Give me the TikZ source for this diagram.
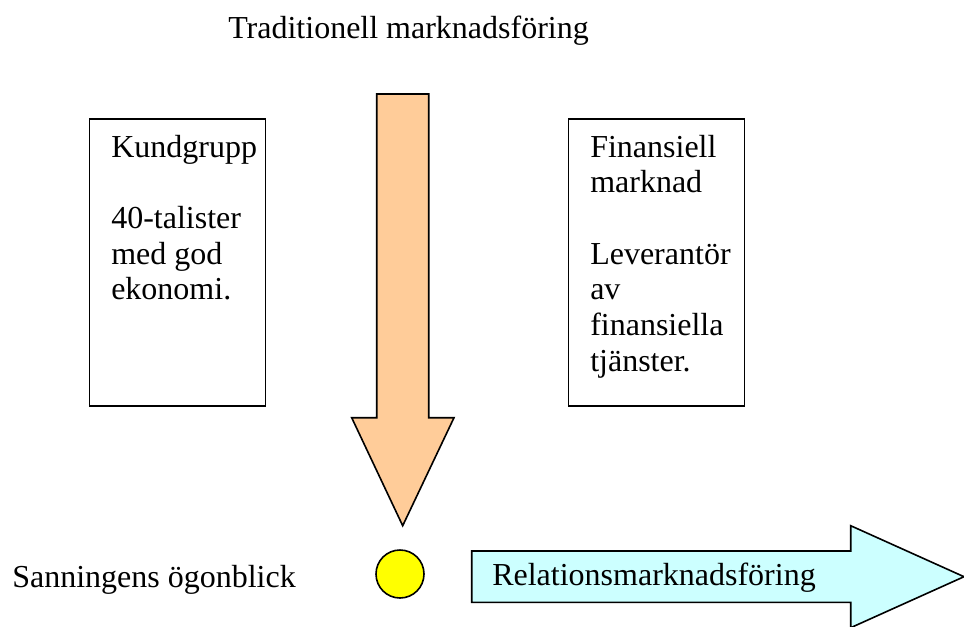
\documentclass[tikz,border=0pt]{standalone}
\usepackage{fontspec}
\setmainfont{Liberation Serif}
\begin{document}
\begin{tikzpicture}[x=0.75pt,y=-0.75pt,
  txt/.style={anchor=base west,inner sep=0pt,font=\fontsize{24}{27}\selectfont},
  outline/.style={draw=black,line width=1.2pt,line join=miter},
  infobox/.style={outline,fill=white,anchor=north west,inner sep=0pt,
    minimum width=132pt,minimum height=215.25pt}]
\definecolor{peach}{HTML}{FFCC99}
\definecolor{paleCyan}{HTML}{CCFFFF}
\definecolor{sun}{HTML}{FFFF00}
\useasboundingbox (0,0) rectangle (964,626);

% heading
\node[txt] (title) at (228,38) {Traditionell marknadsföring};

% customer group box
\node[infobox] (kund) at (88.5,118) {};
\node[txt] (k1) at (111,157) {Kundgrupp};
\node[txt] (k2) at (111,228.4) {40-talister};
\node[txt] (k3) at (111,264) {med god};
\node[txt] (k4) at (111,299.8) {ekonomi.};

% financial market box
\node[infobox] (fin) at (567.5,118) {};
\node[txt] (f1) at (590,157) {Finansiell};
\node[txt] (f2) at (590,192.7) {marknad};
\node[txt] (f3) at (590,264) {Leverantör};
\node[txt] (f4) at (590,299.8) {av};
\node[txt] (f5) at (590,335.5) {finansiella};
\node[txt] (f6) at (590,371) {tjänster.};

% downward block arrow
\draw[outline,fill=peach]
  (376.7,94) -- (428.7,94) -- (428.7,417.7) -- (454,417.7)
  -- (402.7,525.7) -- (351.7,417.7) -- (376.7,417.7) -- cycle;

% moment of truth
\node[outline,fill=sun,circle,minimum size=36pt,inner sep=0pt] (dot) at (400,574) {};
\node[txt] (moment) at (12,587) {Sanningens ögonblick};

% rightward block arrow
\draw[outline,fill=paleCyan]
  (471.7,551) -- (850.7,551) -- (850.7,525.7) -- (964,576.7)
  -- (850.7,627.7) -- (850.7,602.3) -- (471.7,602.3) -- cycle;
\node[txt] (rel) at (492,585) {Relationsmarknadsföring};
\end{tikzpicture}
\end{document}
